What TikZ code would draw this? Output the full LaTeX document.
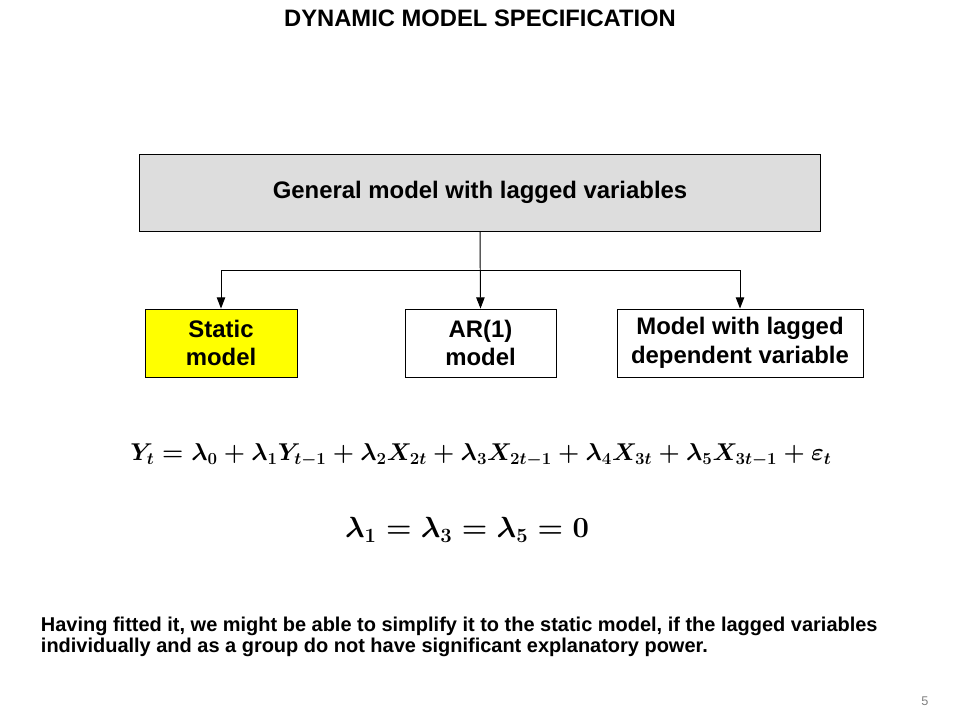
\documentclass[tikz,border=0pt]{standalone}
\usepackage{fontspec}
\usepackage{amsmath}
\setmainfont{Liberation Sans}
\usetikzlibrary{positioning,arrows.meta}
\definecolor{boxgray}{RGB}{221,221,221}
\definecolor{staticyellow}{RGB}{255,255,0}
\tikzset{
  model/.style={draw, line width=0.6pt, minimum height=1.7cm, align=center,
    font=\fontsize{17}{20.5}\selectfont\bfseries},
  link/.style={line width=0.7pt},
  arr/.style={link, -{Triangle[length=8pt,width=6pt]}}
}
\begin{document}
\begin{tikzpicture}[x=0.025cm,y=-0.025cm]
\useasboundingbox (0,0) rectangle (960,720);
% title
\node (title) at (480,18) {\fontsize{16.9}{20}\selectfont\bfseries DYNAMIC MODEL SPECIFICATION};

% general model
\node [model, fill=boxgray, minimum width=17cm, minimum height=1.925cm] (general) at (480,192.5) {General model with lagged variables};

% three special cases
\node [model, fill=staticyellow, minimum width=3.8cm] (static) at (221,343) {Static\\model};
\node [model, minimum width=3.775cm] (ar) at (480.5,343) {AR(1)\\model};
\node [model, minimum width=6.15cm] (lagdep) at (740,343) {Model with lagged\\dependent variable};

% connectors
\coordinate (split) at (general.south |- 0,270);
\draw [arr] (general.south) -- (ar.north);
\draw [arr] (split) -| (static.north);
\draw [arr] (split) -| (lagdep.north);

% equations
\node (eqgen) at (481,455) {\fontsize{18.2}{22}\selectfont $\boldsymbol{Y_t=\lambda_0+\lambda_1Y_{t-1}+\lambda_2X_{2t}+\lambda_3X_{2t-1}+\lambda_4X_{3t}+\lambda_5X_{3t-1}+\varepsilon_t}$};
\node (eqres) at (467,530) {\fontsize{19.5}{24}\selectfont $\boldsymbol{\lambda_1=\lambda_3=\lambda_5=0}$};

% comment
\node [anchor=north west, align=left, font=\fontsize{14.2}{14.9}\selectfont\bfseries] (note) at (36,612)
  {Having fitted it, we might be able to simplify it to the static model, if the lagged variables\\
   individually and as a group do not have significant explanatory power.};

\node [text=gray, font=\fontsize{9}{10}\selectfont] (page) at (925,701) {5};
\end{tikzpicture}
\end{document}
